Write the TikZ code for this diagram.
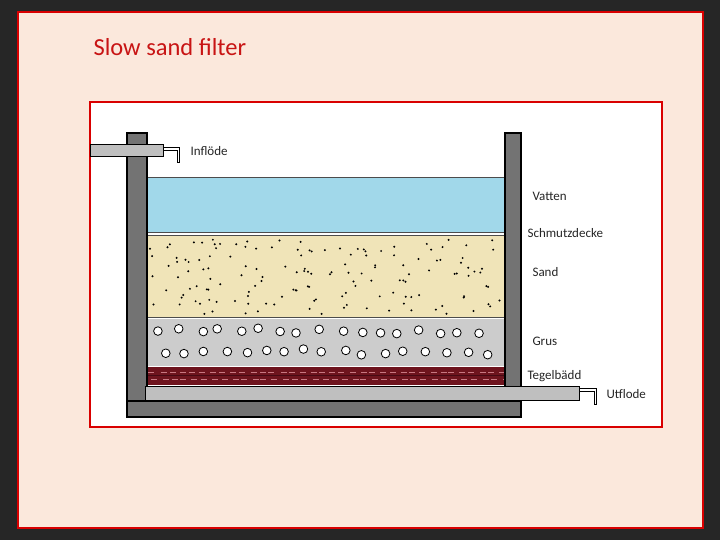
\documentclass[tikz,border=0pt]{standalone}
\usepackage{fontspec}
\setmainfont{Carlito}
\definecolor{peach}{RGB}{251,232,220}
\definecolor{ttl}{RGB}{200,20,20}
\definecolor{water}{RGB}{161,216,234}
\definecolor{sand}{RGB}{240,228,184}
\definecolor{brick}{RGB}{110,20,30}
\definecolor{brickl}{RGB}{200,120,130}
\definecolor{brickd}{RGB}{70,10,20}
\begin{document}
\begin{tikzpicture}[x=1pt,y=-1pt,
  wall/.style={fill=black!55,draw=black,line width=1.2pt},
  pipe/.style={fill=black!25,draw=black,line width=1pt},
  elbow/.style={draw=black,line width=3.2pt,line cap=butt,line join=miter},
  elbowin/.style={draw=white,line width=1.2pt,line cap=butt,line join=miter},
  lbl/.style={anchor=west,font=\fontsize{13}{14}\selectfont,text=black!85}]
\pgfmathsetseed{7}
\useasboundingbox (0,0) rectangle (720,540);
\fill[black!85] (0,0) rectangle (720,540);
\node[draw=red!85!black,line width=2pt,fill=peach,minimum width=685pt,minimum height=516pt,inner sep=0pt] (slide) at (360.5,270) {};
\node[anchor=base west,text=ttl,font=\fontsize{24.5}{28}\selectfont] (title) at (90,56) {Slow sand filter};
\node[draw=red!85!black,line width=2pt,fill=white,minimum width=572pt,minimum height=325pt,inner sep=0pt] (panel) at (376,264.5) {};
% layers
\filldraw[draw=black!70,line width=0.6pt,fill=water] (147,177) rectangle (505,232);
\fill[sand] (147,235) rectangle (505,317);
\draw[black!70,line width=0.6pt] (147,235)--(505,235) (147,317.5)--(505,317.5);
\fill[black!20] (147,319) rectangle (505,366);
\fill[brick] (147,367) rectangle (505,385);
\foreach \i in {0,...,35}{
  \draw[brickl,line width=0.6pt] ({148+\i*10+rnd*3},372) -- ++(6,0);
  \draw[brickl,line width=0.6pt] ({150+\i*10+rnd*3},379) -- ++(6,0);
}
\draw[brickd,line width=0.8pt] (147,375.5)--(505,375.5);
% sand dots
\foreach \i in {1,...,150}{
  \fill[black] ({150+rnd*352},{239+rnd*75}) circle (1.1);
}
% gravel circles
\foreach \i in {0,...,16}{
  \draw[black,fill=white,line width=0.8pt] ({160+\i*20+rnd*8-4},{331+rnd*6-3}) circle (4.3);
  \draw[black,fill=white,line width=0.8pt] ({165+\i*20+rnd*8-4},{352+rnd*6-3}) circle (4.3);
}
% walls
\draw[wall] (127,133) rectangle (147,417);
\draw[wall] (505,133) rectangle (521,417);
\draw[wall] (127,401) rectangle (521,417);
% outlet pipe
\draw[elbow] (578,390) -- (595.5,390) -- (595.5,405);
\draw[elbowin] (578,390) -- (595.5,390) -- (595.5,404.4);
\draw[pipe] (145,386) rectangle (579,400);
% inlet pipe
\draw[elbow] (162,149) -- (178.5,149) -- (178.5,163);
\draw[elbowin] (162,149) -- (178.5,149) -- (178.5,162.4);
\draw[pipe] (90,145) rectangle (163,157);
% labels
\node[lbl] (inf) at (187,151) {Inflöde};
\node[lbl] (vat) at (529,196) {Vatten};
\node[lbl] (sch) at (524,233) {Schmutzdecke};
\node[lbl] (san) at (529,272) {Sand};
\node[lbl] (gru) at (529,341) {Grus};
\node[lbl] (teg) at (524,376) {Tegelbädd};
\node[lbl] (utf) at (603,394) {Utflode};
\end{tikzpicture}
\end{document}
